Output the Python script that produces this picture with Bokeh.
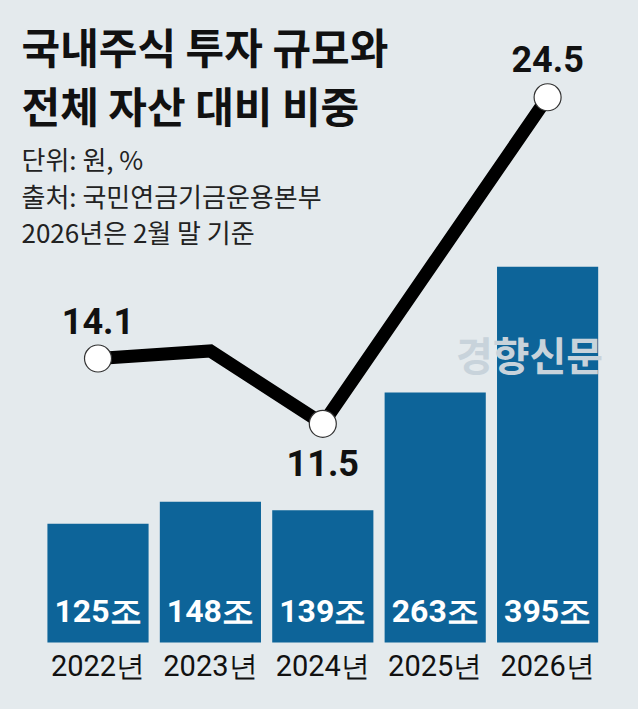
from bokeh.plotting import figure
from bokeh.models import Range1d, Label, ColumnDataSource
from bokeh.core.properties import value
from bokeh.embed import file_html
from bokeh.resources import INLINE

# ---- data ----
years = ["2022", "2023", "2024", "2025", "2026"]
year_labels = ["2022년", "2023년", "2024년", "2025년", "2026년"]
amount = [125, 148, 139, 263, 395]          # 국내주식 투자 규모 (조 원)
amount_labels = ["125조", "148조", "139조", "263조", "395조"]
share = [14.1, 14.4, 11.5, 18.0, 24.5]      # 전체 자산 대비 비중 (%)
marked = [0, 2, 4]                          # points with markers & labels
title_lines = ["국내주식 투자 규모와", "전체 자산 대비 비중"]
note_lines = ["단위: 원, %", "출처: 국민연금기금운용본부", "2026년은 2월 말 기준"]
watermark = "경향신문"

BG = "#e4eaed"
BAR = "#0d6499"
W, H = 638, 709
NUM_FONT = "Roboto"
KR_FONT = "Noto Sans CJK KR"

xi = list(range(len(years)))

p = figure(width=W, height=H, output_backend="svg", toolbar_location=None,
           x_range=Range1d(-0.8675, 4.8087), y_range=Range1d(-70.45, 675.08),
           x_axis_location=None, y_axis_location=None, min_border=0)
p.extra_y_ranges = {"pct": Range1d(0.127, 28.352)}
p.background_fill_color = BG
p.border_fill_color = BG
p.outline_line_color = None
p.grid.visible = False

bars = ColumnDataSource(dict(x=xi, amount=amount, alab=amount_labels,
                             ylab=year_labels, zero=[0] * len(xi)))
p.vbar(x="x", top="amount", bottom=0, width=0.9, source=bars,
       fill_color=BAR, line_color=None)
p.text(x="x", y="zero", text="alab", source=bars, text_align="center",
       text_baseline="alphabetic", y_offset=-32, text_color="white",
       text_font=value(NUM_FONT), text_font_style="bold", text_font_size="32px")
p.text(x="x", y="zero", text="ylab", source=bars, text_align="center",
       text_baseline="alphabetic", y_offset=23, text_color="#111111",
       text_font=value(NUM_FONT), text_font_size="29px")

# watermark
p.add_layout(Label(x=529, y=356, x_units="screen", y_units="screen", text=watermark,
                   text_align="center", text_baseline="middle", text_color="#c8d3db",
                   text_font=KR_FONT, text_font_style="bold",
                   text_font_size="40px"))

line_src = ColumnDataSource(dict(x=xi, share=share))
p.line(x="x", y="share", source=line_src, y_range_name="pct",
       line_color="black", line_width=13, line_join="miter")
mk = ColumnDataSource(dict(x=[xi[i] for i in marked],
                           share=[share[i] for i in marked],
                           lab=[f"{share[i]:.1f}" for i in marked],
                           off=[-38, 39, -38]))
p.scatter(x="x", y="share", source=mk, y_range_name="pct", size=27,
          fill_color="white", line_color="#333333", line_width=1.2)
p.text(x="x", y="share", text="lab", source=mk, y_range_name="pct",
       y_offset="off", text_align="center", text_baseline="alphabetic",
       text_color="#111111", text_font=value("Roboto"), text_font_style="bold",
       text_font_size="36px")

# titles & notes
for txt, yy in zip(title_lines, [664, 605]):
    p.add_layout(Label(x=21, y=yy, x_units="screen", y_units="screen", text=txt,
                       text_align="left", text_baseline="middle", text_color="#111111",
                       text_font=KR_FONT, text_font_style="bold",
                       text_font_size="42px"))
for txt, yy in zip(note_lines, [551, 514, 478]):
    p.add_layout(Label(x=21, y=yy, x_units="screen", y_units="screen", text=txt,
                       text_align="left", text_baseline="middle", text_color="#222222",
                       text_font=KR_FONT, text_font_size="26px"))

html = file_html(p, INLINE)
html = html.replace("<head>", "<head><style>html,body{margin:0;padding:0;overflow:hidden;background:%s}</style>" % BG, 1)
open("out.html", "w").write(html)
